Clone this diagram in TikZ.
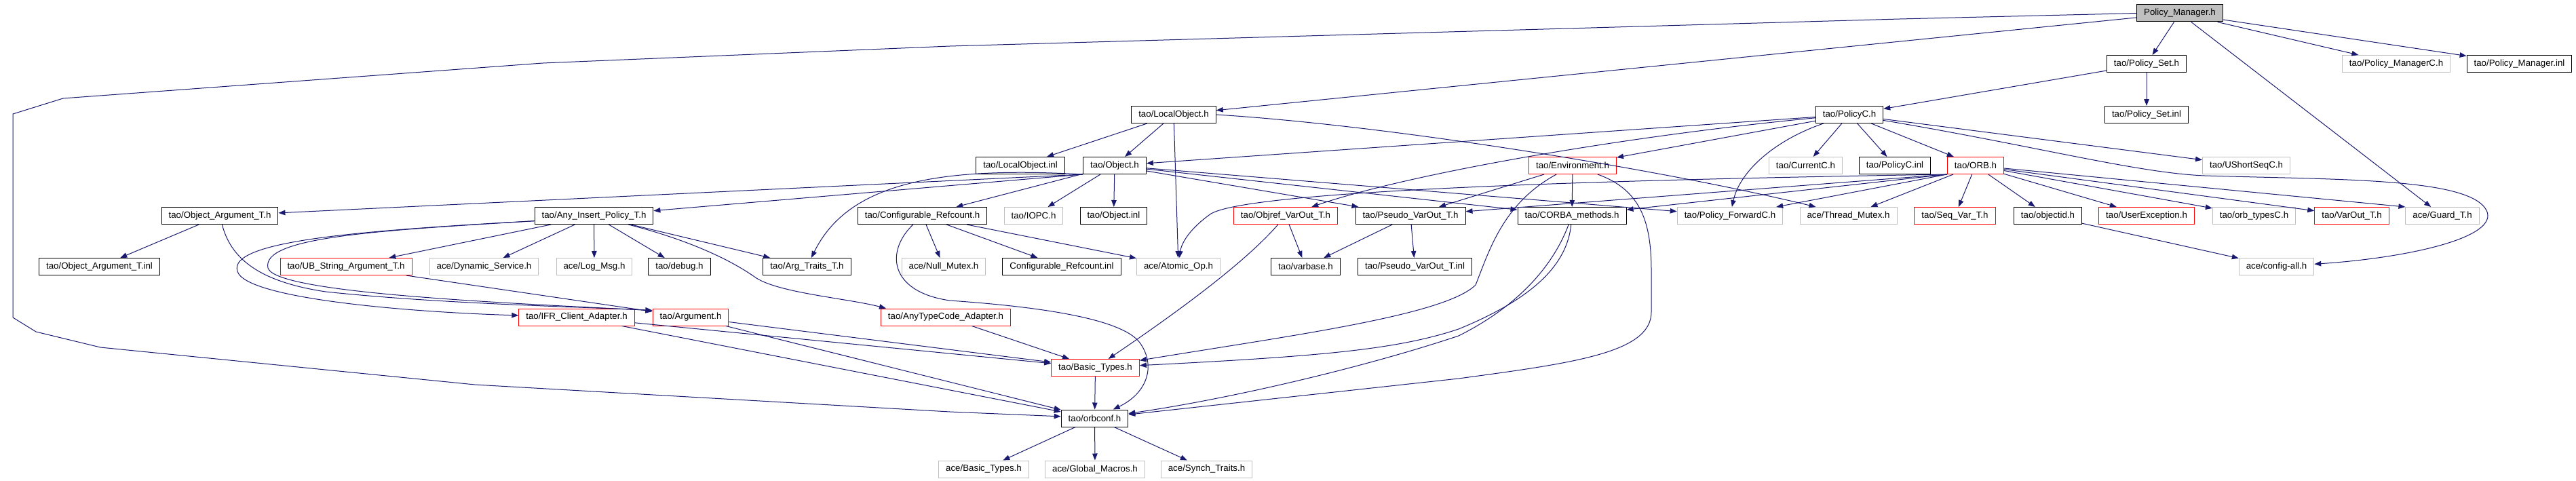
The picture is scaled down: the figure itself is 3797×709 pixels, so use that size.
\documentclass[tikz,border=0pt]{standalone}
\usepackage{fontspec}
\setmainfont{Liberation Sans}
\usetikzlibrary{arrows.meta,calc}
\definecolor{edgec}{HTML}{191970}
\definecolor{grayc}{HTML}{BFBFBF}
\tikzset{
  box/.style={draw=black, line width=1pt, minimum height=25pt, inner xsep=10.5pt, inner ysep=2pt,
    font=\fontsize{13.3}{15}\selectfont, anchor=center},
  redbox/.style={box, draw=red},
  graybox/.style={box, draw=grayc},
  rootbox/.style={box, fill=grayc},
  edge/.style={draw=edgec, line width=1pt, -{Triangle[length=10pt,width=7.5pt]}},
}
\begin{document}
\begin{tikzpicture}[x=1pt,y=-1pt]
\useasboundingbox (0,0) rectangle (3797,709);
% row 0
\node[rootbox] (pm) at (3213,19.5) {Policy\_Manager.h};
% row 1
\node[box] (pset) at (3164,94) {tao/Policy\_Set.h};
\node[graybox] (pmc) at (3532,94) {tao/Policy\_ManagerC.h};
\node[box] (pminl) at (3713.5,94) {tao/Policy\_Manager.inl};
% row 2
\node[box] (psetinl) at (3164,169) {tao/Policy\_Set.inl};
\node[box] (lobj) at (1730,169) {tao/LocalObject.h};
\node[box] (polc) at (2726,169) {tao/PolicyC.h};
% row 3
\node[box] (lobjinl) at (1504,244) {tao/LocalObject.inl};
\node[box] (obj) at (1643,244) {tao/Object.h};
\node[redbox] (env) at (2318,244) {tao/Environment.h};
\node[graybox] (curc) at (2661.5,244) {tao/CurrentC.h};
\node[box] (polcinl) at (2793,244) {tao/PolicyC.inl};
\node[redbox] (orb) at (2912,244) {tao/ORB.h};
\node[graybox] (ushort) at (3311,244) {tao/UShortSeqC.h};
% row 4
\node[box] (objarg) at (324,318) {tao/Object\_Argument\_T.h};
\node[box] (anyins) at (875.5,318) {tao/Any\_Insert\_Policy\_T.h};
\node[box] (cref) at (1359.5,318) {tao/Configurable\_Refcount.h};
\node[graybox] (iopc) at (1523.5,318) {tao/IOPC.h};
\node[box] (objinl) at (1641.5,318) {tao/Object.inl};
\node[redbox] (objref) at (1895,318) {tao/Objref\_VarOut\_T.h};
\node[box] (pseudo) at (2079,318) {tao/Pseudo\_VarOut\_T.h};
\node[box] (corba) at (2317,318) {tao/CORBA\_methods.h};
\node[graybox] (pfwd) at (2550,318) {tao/Policy\_ForwardC.h};
\node[graybox] (thmutex) at (2724.5,318) {ace/Thread\_Mutex.h};
\node[redbox] (seqvar) at (2881.5,318) {tao/Seq\_Var\_T.h};
\node[box] (objid) at (3018.5,318) {tao/objectid.h};
\node[redbox] (uexc) at (3164,318) {tao/UserException.h};
\node[graybox] (orbtypes) at (3322.5,318) {tao/orb\_typesC.h};
\node[redbox] (varout) at (3466.5,318) {tao/VarOut\_T.h};
\node[graybox] (guard) at (3600,318) {ace/Guard\_T.h};
% row 5
\node[box] (objarginl) at (146.5,393) {tao/Object\_Argument\_T.inl};
\node[redbox] (ubstr) at (510,393) {tao/UB\_String\_Argument\_T.h};
\node[graybox] (dynsvc) at (713.5,393) {ace/Dynamic\_Service.h};
\node[graybox] (logmsg) at (876,393) {ace/Log\_Msg.h};
\node[box] (debug) at (1001.5,393) {tao/debug.h};
\node[box] (argtraits) at (1189.5,393) {tao/Arg\_Traits\_T.h};
\node[graybox] (nullmutex) at (1391,393) {ace/Null\_Mutex.h};
\node[box] (crefinl) at (1565,393) {Configurable\_Refcount.inl};
\node[graybox] (atomic) at (1737,393) {ace/Atomic\_Op.h};
\node[box] (varbase) at (1924.5,393) {tao/varbase.h};
\node[box] (pseudoinl) at (2085.5,393) {tao/Pseudo\_VarOut\_T.inl};
\node[graybox] (configall) at (3355.5,393) {ace/config-all.h};
% row 6
\node[redbox] (ifr) at (850,467.5) {tao/IFR\_Client\_Adapter.h};
\node[redbox] (arg) at (1018,467.5) {tao/Argument.h};
\node[redbox] (anytc) at (1394,467.5) {tao/AnyTypeCode\_Adapter.h};
% row 7
\node[redbox] (btypes) at (1614.5,542) {tao/Basic\_Types.h};
% row 8
\node[box] (orbconf) at (1613.5,616.5) {tao/orbconf.h};
% row 9
\node[graybox] (acebt) at (1450,691.5) {ace/Basic\_Types.h};
\node[graybox] (gmacros) at (1614,691.5) {ace/Global\_Macros.h};
\node[graybox] (synch) at (1778.5,691.5) {ace/Synch\_Traits.h};

% ---- edges from Policy_Manager.h
\draw[edge] (pm.west) -- (2800,28) -- (1400,68) -- (800,93) -- (93,145) -- (19,168) -- (19,468) -- (53,489) -- (148,512) -- (700,567) -- (1400,607) -- (orbconf.177);
\draw[edge] (pm) -- (lobj);
\draw[edge] (pm) -- (pset);
\draw[edge] (pm) -- (pmc);
\draw[edge] (pm) -- (pminl);
\draw[edge] (pm) -- (guard);
% Policy_Set.h
\draw[edge] (pset) -- (psetinl);
\draw[edge] (pset) -- (polc);
% LocalObject.h
\draw[edge] (lobj) -- (lobjinl);
\draw[edge] (lobj) -- (obj);
\draw[edge] (lobj) -- (atomic);
\draw[edge] (lobj.east) .. controls (2050,185) and (2450,250) .. ($(thmutex.north west)+(24,0)$);
% PolicyC.h
\draw[edge] (polc) -- (obj);
\draw[edge] (polc) -- (env);
\draw[edge] (polc) .. controls (2400,200) and (2080,255) .. (objref);
\draw[edge] (polc) -- (curc);
\draw[edge] (polc) -- (polcinl);
\draw[edge] (polc) -- (orb);
\draw[edge] (polc) .. controls (2620,205) and (2565,250) .. (pfwd);
\draw[edge] (polc) -- (ushort);
\draw[edge] (polc) .. controls (3000,215) and (3150,255) .. (3250,259) .. controls (3450,265) and (3640,262) .. (3665,310) .. controls (3685,350) and (3550,380) .. (configall);
% ORB.h
\draw[edge] (orb.south west) .. controls (2300,266) and (1840,283) .. (1785,315) .. controls (1752,338) and (1741,360) .. (atomic);
\draw[edge] (orb.south west) -- (pseudo);
\draw[edge] (orb.south west) -- (corba);
\draw[edge] (orb.south west) -- (pfwd);
\draw[edge] (orb) -- (thmutex);
\draw[edge] (orb) -- (seqvar);
\draw[edge] (orb) -- (objid);
\draw[edge] (orb) -- (uexc);
\draw[edge] (orb) -- (orbtypes);
\draw[edge] (orb) -- (varout);
\draw[edge] (orb) -- (guard.north west);
\draw[edge] (objid) -- (configall);
% Environment.h
\draw[edge] (env) -- (pseudo);
\draw[edge] (env) -- (corba);
\draw[edge] (env) .. controls (2215,300) and (2195,370) .. (2175,420) .. controls (2130,465) and (1900,495) .. (btypes);
\draw[edge] (env) .. controls (2420,280) and (2434,330) .. (2434,400) -- (2434,460) .. controls (2434,520) and (2320,535) .. (2150,558) -- (orbconf);
% CORBA_methods.h
\draw[edge] (corba) .. controls (2310,390) and (2260,440) .. (2150,485) .. controls (2060,515) and (1950,525) .. (btypes);
\draw[edge] (corba) .. controls (2290,390) and (2240,450) .. (2150,495) .. controls (2000,545) and (1800,590) .. (orbconf);
% VarOut etc.
\draw[edge] (anytc) -- (btypes);
\draw[edge] (objref) .. controls (1850,370) and (1780,430) .. (btypes);
\draw[edge] (objref) -- (varbase);
\draw[edge] (pseudo) -- (varbase);
\draw[edge] (pseudo) -- (pseudoinl);
% Configurable_Refcount.h
\draw[edge] (cref) -- (nullmutex);
\draw[edge] (cref) -- (crefinl);
\draw[edge] (cref) -- (atomic);
\draw[edge] (cref) .. controls (1305,370) and (1310,430) .. (1400,443) .. controls (1500,450) and (1650,465) .. (1680,505) .. controls (1705,540) and (1690,580) .. (orbconf);
% Basic types / orbconf
\draw[edge] (btypes) -- (orbconf);
\draw[edge] (orbconf) -- (acebt);
\draw[edge] (orbconf) -- (gmacros);
\draw[edge] (orbconf) -- (synch);
% Object.h
\draw[edge] (obj.south west) -- (objarg);
\draw[edge] (obj.south west) -- (anyins);
\draw[edge] (obj.south west) .. controls (1380,245) and (1250,270) .. (argtraits);
\draw[edge] (obj) -- (cref);
\draw[edge] (obj) -- (iopc);
\draw[edge] (obj) -- (objinl);
\draw[edge] (obj) -- (pseudo);
\draw[edge] (obj) -- (corba);
\draw[edge] (obj) -- (pfwd);
% Object_Argument_T.h
\draw[edge] (objarg) -- (objarginl);
\draw[edge] (objarg) .. controls (340,380) and (380,415) .. (480,430) .. controls (650,448) and (850,452) .. (arg.170);
% Any_Insert_Policy_T.h
\draw[edge] (anyins.185) .. controls (550,340) and (385,350) .. (395,395) .. controls (405,430) and (700,445) .. (arg.170);
\draw[edge] (anyins.185) .. controls (530,340) and (335,355) .. (350,400) .. controls (362,440) and (600,460) .. (ifr);
\draw[edge] (anyins) -- (ubstr);
\draw[edge] (anyins) -- (dynsvc);
\draw[edge] (anyins) -- (logmsg);
\draw[edge] (anyins) -- (debug);
\draw[edge] (anyins) -- (argtraits);
\draw[edge] (anyins) .. controls (1020,355) and (1080,385) .. (1115,410) .. controls (1150,432) and (1250,440) .. ($(anytc.north west)+(8,0)$);
\draw[edge] (ubstr) -- (arg);
% adapters / argument
\draw[edge] (ifr) -- (btypes);
\draw[edge] (ifr) -- (orbconf);
\draw[edge] (arg) -- (btypes);
\draw[edge] (arg) -- (orbconf);
\end{tikzpicture}
\end{document}
